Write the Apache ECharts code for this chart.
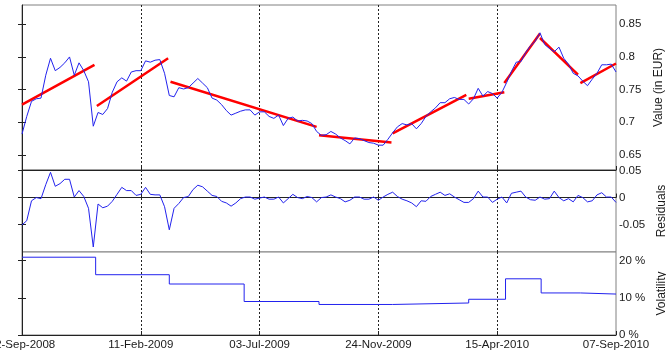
<!DOCTYPE html>
<html>
<head>
<meta charset="utf-8">
<script src="https://cdn.jsdelivr.net/npm/echarts@6/dist/echarts.min.js"></script>
<style>
  html, body { margin: 0; padding: 0; background: #fff; }
  #chart { width: 666px; height: 361px; }
</style>
</head>
<body>
<div id="chart"></div>
<script>
// x is a trading-day index, 100 per date tick
const dateLabels = ['22-Sep-2008', '11-Feb-2009', '03-Jul-2009', '24-Nov-2009', '15-Apr-2010', '07-Sep-2010'];
const step = 4;

// exchange value (EUR), one every 4 days
const price = [
  0.682, 0.709, 0.732, 0.736, 0.737, 0.772, 0.798, 0.779, 0.784, 0.791,
  0.800, 0.772, 0.791, 0.779, 0.762, 0.694, 0.715, 0.712, 0.721, 0.746,
  0.762, 0.768, 0.763, 0.777, 0.779, 0.779, 0.794, 0.792, 0.795, 0.796,
  0.775, 0.741, 0.739, 0.753, 0.751, 0.753, 0.760, 0.767, 0.760, 0.753,
  0.737, 0.734, 0.727, 0.718, 0.711, 0.714, 0.717, 0.719, 0.719, 0.711,
  0.716, 0.716, 0.709, 0.706, 0.711, 0.695, 0.706, 0.708, 0.702, 0.703,
  0.702, 0.698, 0.686, 0.680, 0.681, 0.686, 0.682, 0.676, 0.672, 0.667,
  0.676, 0.675, 0.672, 0.669, 0.668, 0.665, 0.665, 0.674, 0.684, 0.693,
  0.698, 0.696, 0.698, 0.690, 0.698, 0.709, 0.716, 0.722, 0.730, 0.730,
  0.736, 0.738, 0.735, 0.735, 0.728, 0.736, 0.752, 0.740, 0.747, 0.744,
  0.737, 0.746, 0.761, 0.778, 0.792, 0.793, 0.807, 0.817, 0.824, 0.837,
  0.819, 0.813, 0.808, 0.815, 0.798, 0.789, 0.775, 0.771, 0.763, 0.756,
  0.766, 0.775, 0.788, 0.788, 0.789, 0.777
];

const residuals = [
  -0.051, -0.043, -0.006, 0.000, -0.002, 0.024, 0.047, 0.021, 0.026, 0.034,
  0.034, 0.001, 0.013, 0.002, -0.020, -0.092, -0.012, -0.019, -0.016, -0.007,
  0.006, 0.019, 0.013, 0.013, 0.004, 0.006, 0.019, 0.006, 0.005, 0.005,
  -0.017, -0.060, -0.020, -0.011, 0.000, 0.002, 0.015, 0.023, 0.020, 0.012,
  0.004, 0.002, -0.007, -0.010, -0.016, -0.010, -0.002, 0.001, 0.001, -0.003,
  -0.001, 0.001, -0.003, -0.003, 0.001, -0.010, -0.002, 0.006, 0.000, -0.002,
  0.002, 0.000, -0.008, 0.000, 0.001, 0.005, 0.001, -0.002, -0.008, -0.005,
  0.001, 0.001, -0.003, -0.003, 0.001, -0.005, 0.001, 0.006, 0.010, 0.002,
  -0.003, -0.006, -0.010, -0.017, -0.006, -0.007, 0.002, 0.006, 0.010, 0.004,
  0.007, 0.001, -0.004, -0.009, -0.009, -0.002, 0.012, 0.001, 0.001, -0.009,
  -0.003, 0.001, -0.010, 0.008, 0.010, 0.012, 0.001, -0.004, -0.005, 0.001,
  -0.003, -0.002, 0.012, 0.000, -0.006, -0.002, -0.008, 0.004, 0.000, -0.008,
  -0.006, 0.005, 0.009, 0.001, 0.001, -0.009
];

// piecewise linear trends
const trendFrom = [0, 63, 125, 250, 312, 376, 406, 436, 470];
const trendTo = [61, 123, 248, 311, 374, 406, 436, 468, 500];
const trendStartVal = [0.727, 0.725, 0.762, 0.680, 0.683, 0.736, 0.760, 0.829, 0.760];
const trendEndVal = [0.788, 0.798, 0.693, 0.669, 0.742, 0.746, 0.836, 0.773, 0.790];

// volatility regimes (%)
const volBreaks = [0, 62, 124, 187, 250, 312, 376, 407, 437, 470];
const volLevels = [20.9, 16.2, 13.7, 9.0, 8.2, 8.6, 9.6, 15.1, 11.3, 11.0];

const priceTicks = [0.65, 0.7, 0.75, 0.8, 0.85];
const residTicks = [-0.05, 0, 0.05];
const volTicks = [0, 10, 20];

const priceData = price.map((v, k) => [k * step, v]);
const residData = residuals.map((v, k) => [k * step, v]);
const trendData = [];
trendFrom.forEach((x0, i) => {
  trendData.push([x0, trendStartVal[i]], [trendTo[i], trendEndVal[i]], [trendTo[i], null]);
});
const volData = volBreaks.map((x, i) => [x, volLevels[i]]);
volData.push([500, volLevels[volLevels.length - 1]]);

const font = 'Liberation Sans';
const txt = '#1a1a1a';
const grids = [
  { left: 22, right: 50, top: 5, height: 165 },
  { left: 22, right: 50, top: 170, height: 82 },
  { left: 22, right: 50, top: 252, height: 83 }
].map(g => Object.assign(g, {
  show: true, borderColor: '#808080', borderWidth: 1, backgroundColor: '#fff',
  containLabel: false, outerBoundsMode: 'none'
}));

function xAxis(i, labels) {
  return {
    gridIndex: i, type: 'value', min: 0, max: 500, interval: 100,
    axisLine: { show: true, lineStyle: { color: '#222' } },
    axisTick: { show: true, inside: true, length: 4, lineStyle: { color: '#222' } },
    axisLabel: {
      show: labels, margin: 4, color: txt, fontFamily: font, fontSize: 11.5,
      showMinLabel: true, showMaxLabel: true,
      formatter: v => dateLabels[Math.round(v / 100)]
    },
    splitLine: {
      show: true, showMinLine: false, showMaxLine: false,
      lineStyle: { color: '#222', type: [2, 2], width: 1 }
    }
  };
}

function yRight(i, min, max, ticks, fmt, name, gap) {
  return {
    gridIndex: i, type: 'value', position: 'right', min: min, max: max,
    axisLine: { show: true, lineStyle: { color: '#222' } },
    axisTick: { show: true, inside: true, length: 4, customValues: ticks, lineStyle: { color: '#222' } },
    axisLabel: { customValues: ticks, formatter: fmt, margin: 3, color: txt, fontFamily: font, fontSize: 11.5 },
    splitLine: { show: false },
    name: name, nameLocation: 'middle', nameRotate: 90, nameGap: gap,
    nameTextStyle: { color: txt, fontFamily: font, fontSize: 12 }
  };
}

function yLeft(i, min, max, ticks) {
  return {
    gridIndex: i, type: 'value', position: 'left', min: min, max: max,
    axisLine: { show: false },
    axisTick: { show: true, inside: true, length: 4, customValues: ticks, lineStyle: { color: '#222' } },
    axisLabel: { show: false },
    splitLine: { show: false }
  };
}

const chart = echarts.init(document.getElementById('chart'), null, { renderer: 'canvas' });
chart.setOption({
  animation: false,
  backgroundColor: '#fff',
  grid: grids,
  xAxis: [xAxis(0, false), xAxis(1, false), xAxis(2, true)],
  yAxis: [
    yRight(0, 0.627, 0.8795, priceTicks, v => String(+v.toFixed(2)), 'Value (in EUR)', 36),
    yRight(1, -0.1013, 0.0513, residTicks, v => String(+v.toFixed(2)), 'Residuals', 39),
    yRight(2, 0, 22.3, volTicks, v => Math.round(v) + ' %', 'Volatility', 38),
    yLeft(0, 0.627, 0.8795, priceTicks),
    yLeft(1, -0.1013, 0.0513, residTicks),
    yLeft(2, 0, 22.3, volTicks)
  ],
  series: [
    {
      type: 'line', xAxisIndex: 0, yAxisIndex: 0, data: trendData, showSymbol: false,
      connectNulls: false, lineStyle: { color: '#ff0000', width: 2.5 }, z: 2
    },
    {
      type: 'line', xAxisIndex: 0, yAxisIndex: 0, data: priceData, showSymbol: false,
      lineStyle: { color: '#2222ee', width: 1 }, z: 3
    },
    {
      type: 'line', xAxisIndex: 1, yAxisIndex: 1, data: residData, showSymbol: false,
      lineStyle: { color: '#2222ee', width: 1 }
    },
    {
      type: 'line', xAxisIndex: 2, yAxisIndex: 2, data: volData, showSymbol: false, step: 'end',
      lineStyle: { color: '#2222ee', width: 1 }
    }
  ]
});
window.addEventListener('resize', function () {
  chart.resize();
});
</script>
</body>
</html>
